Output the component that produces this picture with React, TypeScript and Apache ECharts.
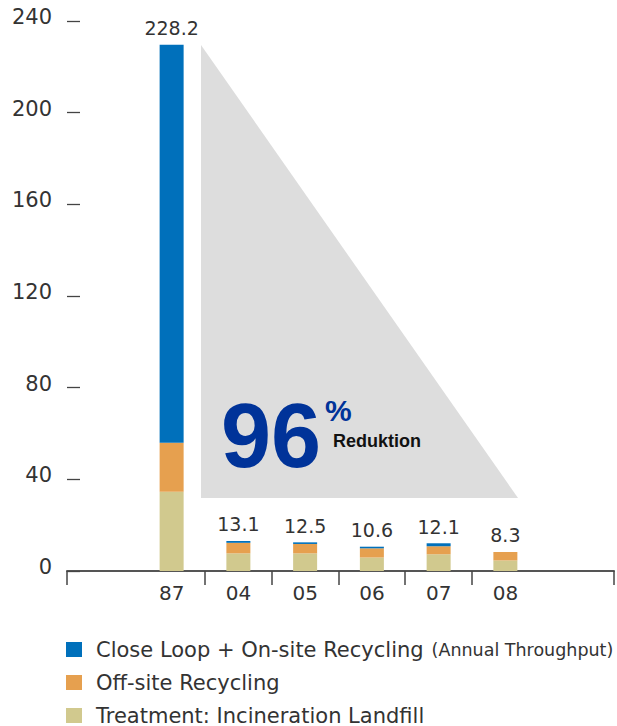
import React, { useEffect, useRef } from "react";
import * as echarts from "echarts";

const categories = ["87", "04", "05", "06", "07", "08"];
const treatment = [34.6, 7.7, 7.7, 5.9, 7.3, 4.6];
const offsite = [21.4, 4.6, 4.1, 4.0, 3.5, 3.7];
const closeLoop = [173.6, 0.8, 0.7, 0.7, 1.3, 0];
const totals = [228.2, 13.1, 12.5, 10.6, 12.1, 8.3];
const xTickValues = [-0.57, 1.5, 2.5, 3.5, 4.5, 5.5, 7.63];
const seriesNames = [
  "Close Loop + On-site Recycling",
  "Off-site Recycling",
  "Treatment: Incineration Landfill",
];
const colors = ["#0070BB", "#E6A04F", "#D1C98E"];
const legendTops = [639, 672, 705];

const FONT = "DejaVu Sans";

export default function App() {
  const ref = useRef<HTMLDivElement>(null);
  useEffect(() => {
    if (!ref.current) return;
    const chart = echarts.init(ref.current, undefined, { renderer: "svg" });
    const pad = (arr: number[]) => [null, ...arr, null];
    const legendBase = {
      orient: "horizontal",
      left: 66,
      padding: 0,
      itemWidth: 16,
      itemHeight: 15,
      icon: "rect",
      formatter: (name: string) =>
        name === seriesNames[0]
          ? `{a|${name}}{b|(Annual Throughput)}`
          : `{a|${name}}`,
      textStyle: {
        color: "#333",
        fontFamily: FONT,
        fontSize: 21,
        lineHeight: 20,
        rich: {
          a: { fontFamily: FONT, fontSize: 21, lineHeight: 20, color: "#333", padding: [0, 0, 0, 9] },
          b: { fontFamily: FONT, fontSize: 17.5, lineHeight: 20, color: "#333", padding: [0, 0, 0, 8] },
        },
      },
    };
    chart.setOption({
      animation: false,
      grid: [
        { left: 71.5, right: 11.5, top: 21, height: 550 },
        { left: 67, right: 3, top: 21, height: 550 },
      ],
      xAxis: [
        {
          type: "category",
          gridIndex: 0,
          data: ["", ...categories, ""],
          axisLine: { show: false },
          axisTick: { show: false },
          axisLabel: {
            margin: 12,
            fontFamily: FONT,
            fontSize: 20,
            color: "#333",
          },
        },
        {
          type: "value",
          gridIndex: 1,
          min: -0.57,
          max: 7.63,
          splitLine: { show: false },
          axisLine: { show: true, lineStyle: { color: "#555", width: 2 } },
          axisTick: {
            show: true,
            customValues: xTickValues,
            length: 14,
            lineStyle: { color: "#444", width: 1.5 },
          },
          axisLabel: { show: false },
        },
      ],
      yAxis: [
        {
          type: "value",
          gridIndex: 0,
          min: 0,
          max: 240,
          interval: 40,
          show: false,
          splitLine: { show: false },
        },
        {
          type: "value",
          gridIndex: 1,
          min: 0,
          max: 240,
          interval: 40,
          splitLine: { show: false },
          axisLine: { show: false, onZero: false },
          axisTick: {
            show: true,
            inside: true,
            length: 13,
            lineStyle: { color: "#444", width: 1.3 },
          },
          axisLabel: {
            margin: 15,
            fontFamily: FONT,
            fontSize: 21,
            color: "#333",
            verticalAlign: "bottom",
            lineHeight: 8,
          },
        },
      ],
      legend: seriesNames.map((n, i) => ({
        ...legendBase,
        top: legendTops[i],
        data: [n],
      })),
      graphic: [
        {
          type: "polygon",
          z: 0,
          shape: { points: [[201, 45], [518, 498], [201, 498]] },
          style: { fill: "#DDDDDD" },
        },
        {
          type: "text",
          z: 5,
          x: 221,
          y: 436,
          style: {
            text: "96",
            fontFamily: "Liberation Sans",
            fontWeight: "bold",
            fontSize: 90,
            fill: "#003399",
            verticalAlign: "middle",
            align: "left",
          },
        },
        {
          type: "text",
          z: 5,
          x: 325,
          y: 410,
          style: {
            text: "%",
            fontFamily: "Liberation Sans",
            fontWeight: "bold",
            fontSize: 30,
            fill: "#003399",
            verticalAlign: "middle",
            align: "left",
          },
        },
        {
          type: "text",
          z: 5,
          x: 333,
          y: 441,
          style: {
            text: "Reduktion",
            fontFamily: "Liberation Sans",
            fontWeight: "bold",
            fontSize: 18,
            fill: "#111",
            verticalAlign: "middle",
            align: "left",
          },
        },
      ],
      series: [
        {
          name: seriesNames[2],
          type: "bar",
          stack: "total",
          barWidth: 24,
          xAxisIndex: 0,
          yAxisIndex: 0,
          itemStyle: { color: colors[2] },
          data: pad(treatment),
        },
        {
          name: seriesNames[1],
          type: "bar",
          stack: "total",
          barWidth: 24,
          xAxisIndex: 0,
          yAxisIndex: 0,
          itemStyle: { color: colors[1] },
          data: pad(offsite),
        },
        {
          name: seriesNames[0],
          type: "bar",
          stack: "total",
          barWidth: 24,
          xAxisIndex: 0,
          yAxisIndex: 0,
          itemStyle: { color: colors[0] },
          data: pad(closeLoop),
          label: {
            show: true,
            position: "top",
            distance: 7,
            fontFamily: FONT,
            fontSize: 19,
            color: "#333",
            formatter: (p: any) => {
              const t = totals[p.dataIndex - 1];
              return t == null ? "" : t.toFixed(1);
            },
          },
        },
      ],
    });
    return () => chart.dispose();
  }, []);
  return (
    <div
      ref={ref}
      style={{ position: "fixed", left: 0, top: 0, width: 617, height: 726, background: "#fff" }}
    />
  );
}
